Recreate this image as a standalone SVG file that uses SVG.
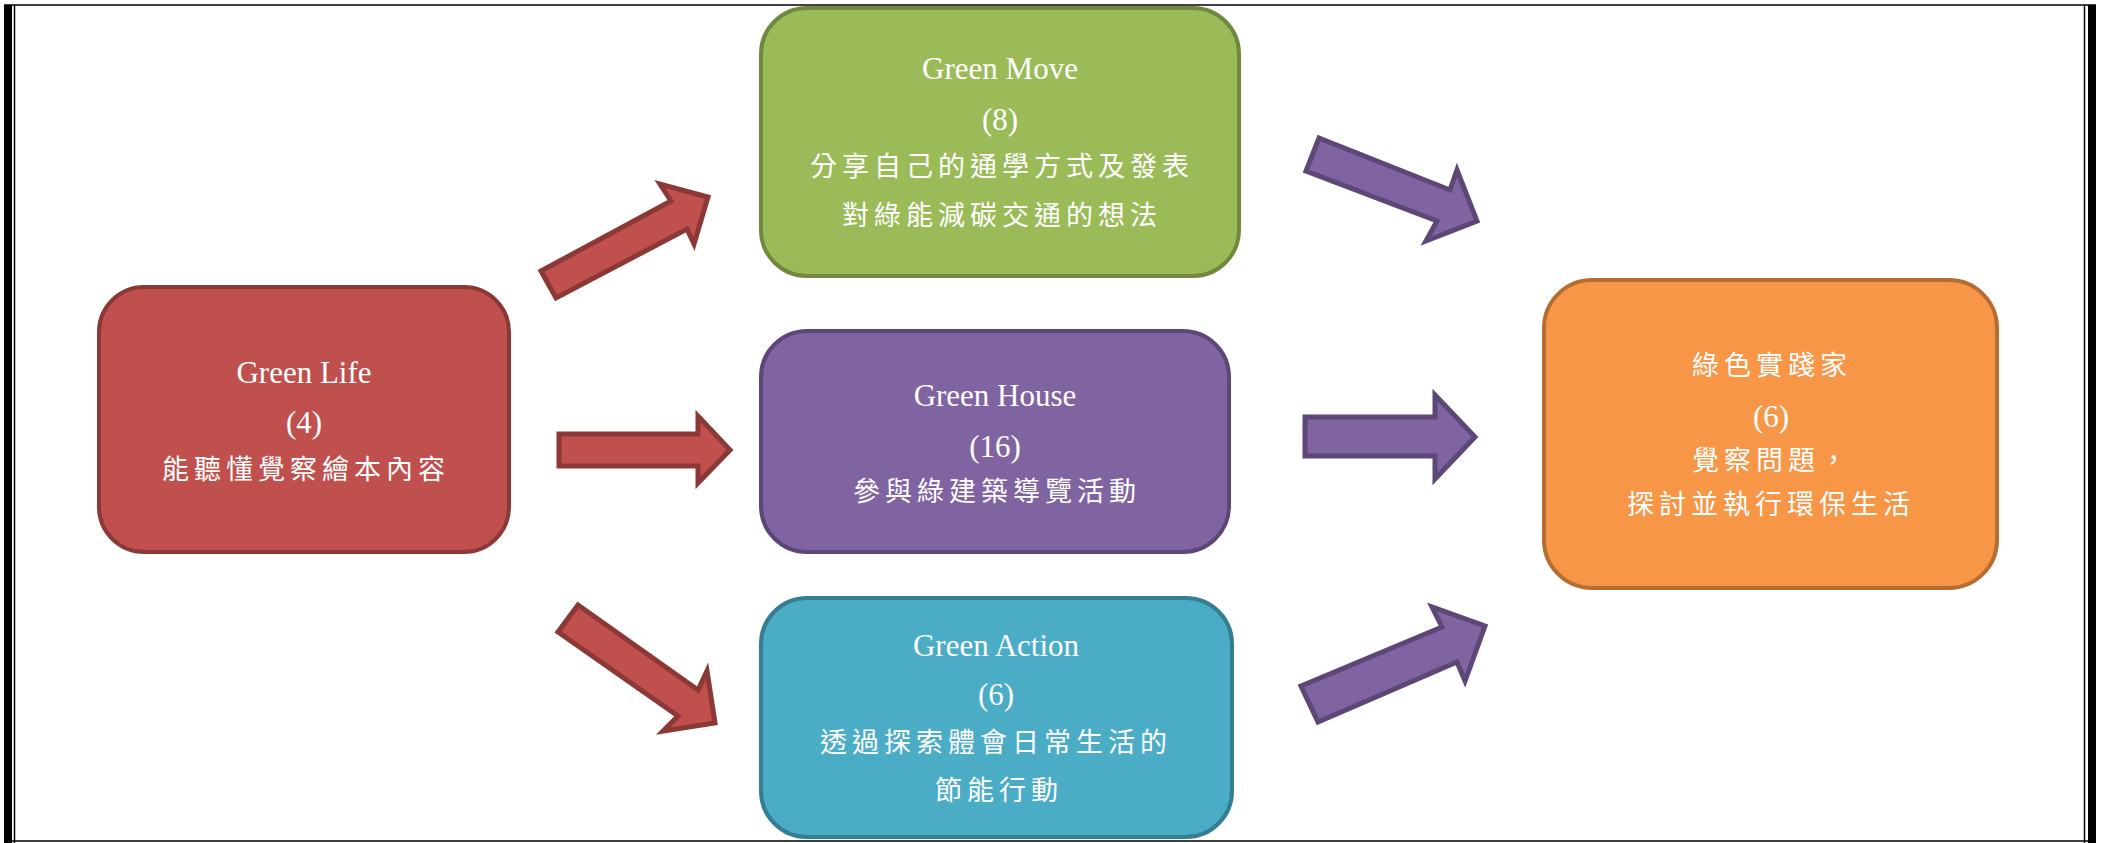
<svg xmlns="http://www.w3.org/2000/svg" width="2105" height="843" viewBox="0 0 2105 843">
<style>
.lat{font-family:"Liberation Serif","Times New Roman",serif;font-size:31px;fill:#ffffff;text-anchor:middle}
.cjk{font-family:"Noto Sans CJK TC","Noto Sans CJK SC",sans-serif;font-size:27px;fill:#ffffff;letter-spacing:5px}
.red{fill:#C0504D;stroke:#8C3836;stroke-width:5;stroke-linejoin:miter}
.pur{fill:#8064A2;stroke:#5C4776;stroke-width:5;stroke-linejoin:miter}
.box{stroke-width:4}
</style>
<rect x="0" y="0" width="2105" height="843" fill="#ffffff"/>
<g id="frame">
<line x1="4" y1="5" x2="2096" y2="5" stroke="#000" stroke-width="1.5"/>
<line x1="4" y1="841" x2="2096" y2="841" stroke="#000" stroke-width="1.5"/>
<rect x="4" y="5" width="8" height="838" fill="#000"/>
<line x1="14.5" y1="5" x2="14.5" y2="843" stroke="#000" stroke-width="1.5"/>
<line x1="2084.5" y1="5" x2="2084.5" y2="843" stroke="#000" stroke-width="1.5"/>
<rect x="2088" y="5" width="8" height="838" fill="#000"/>
</g>
<g id="connectors">
<path class="red" d="M541,271 L671,201 L660,184 L708,197 L694,244 L687,229 L556,298 Z"/>
<path class="red" d="M559,434 L698,434 L698,416 L730,450 L698,483 L698,466 L559,466 Z"/>
<path class="red" d="M578,605 L698,690 L707,671 L715,723 L663,731 L678,716 L558,632 Z"/>
<path class="pur" d="M1319,138 L1450,190 L1457,170 L1477,221 L1426,241 L1437,221 L1306,171 Z"/>
<path class="pur" d="M1305,417 L1435,417 L1435,395 L1475,437 L1435,479 L1435,456 L1305,456 Z"/>
<path class="pur" d="M1301,686 L1442,627 L1432,607 L1485,626 L1465,681 L1457,662 L1318,722 Z"/>
</g>
<g id="green-life">
<rect class="red box" x="99" y="287" width="410" height="265" rx="45" ry="45"/>
<text class="lat" x="304" y="383">Green Life</text>
<text class="lat" x="304" y="433">(4)</text>
<text class="cjk" x="162" y="479">能聽懂覺察繪本內容</text>
</g>
<g id="green-move">
<rect x="761" y="8" width="478" height="268" rx="46" ry="46" fill="#9BBB59" stroke="#71893F" stroke-width="4"/>
<text class="lat" x="1000" y="79">Green Move</text>
<text class="lat" x="1000" y="130">(8)</text>
<text class="cjk" x="810" y="176">分享自己的通學方式及發表</text>
<text class="cjk" x="842" y="225">對綠能減碳交通的想法</text>
</g>
<g id="green-house">
<rect class="pur box" x="761" y="331" width="468" height="221" rx="46" ry="46"/>
<text class="lat" x="995" y="406">Green House</text>
<text class="lat" x="995" y="457">(16)</text>
<text class="cjk" x="853" y="501">參與綠建築導覽活動</text>
</g>
<g id="green-action">
<rect x="761" y="598" width="471" height="239" rx="46" ry="46" fill="#4BACC6" stroke="#357D91" stroke-width="4"/>
<text class="lat" x="996" y="656">Green Action</text>
<text class="lat" x="996" y="705">(6)</text>
<text class="cjk" x="820" y="752">透過探索體會日常生活的</text>
<text class="cjk" x="935" y="800">節能行動</text>
</g>
<g id="green-practitioner">
<rect x="1544" y="280" width="453" height="308" rx="48" ry="48" fill="#F79646" stroke="#B66D31" stroke-width="4"/>
<text class="cjk" x="1692" y="375">綠色實踐家</text>
<text class="lat" x="1771" y="427">(6)</text>
<text class="cjk" x="1692" y="470">覺察問題，</text>
<text class="cjk" x="1627" y="514">探討並執行環保生活</text>
</g>
</svg>
